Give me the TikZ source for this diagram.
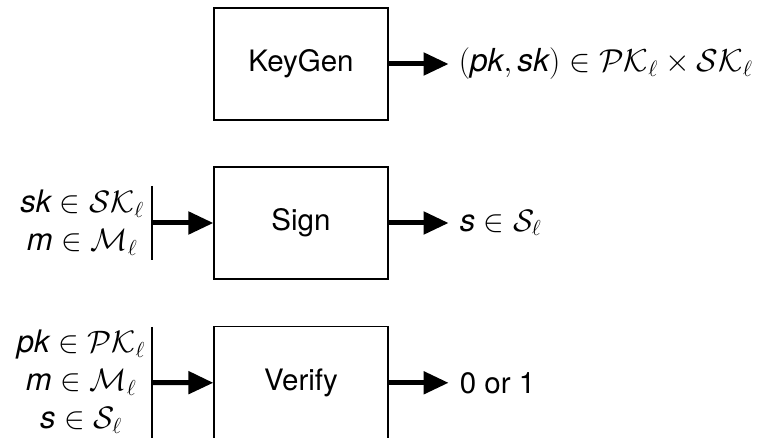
\RequirePackage{fix-cm}
\documentclass[tikz,border=0pt]{standalone}
\usepackage{fontspec}
\setmainfont{TeX Gyre Heros}
\usetikzlibrary{arrows.meta,calc}
\newcommand\iv[1]{\textit{#1}}
\tikzset{
  box/.style={draw, line width=1.2pt, minimum width=174pt, minimum height=112pt, inner sep=0pt, font=\fontsize{29.5}{35}\selectfont},
  flow/.style={line width=5pt, -{Triangle[length=25pt,width=22pt]}},
  lbl/.style={font=\fontsize{31}{38}\selectfont, align=center, inner sep=0pt},
  biglbl/.style={font=\fontsize{31.7}{38}\selectfont, inner sep=0pt},
  txt/.style={font=\fontsize{29.5}{35}\selectfont, inner sep=0pt},
  bar/.style={line width=1.2pt}
}
\begin{document}
\begin{tikzpicture}[x=1pt,y=-1pt]
\useasboundingbox (0,0) rectangle (758,438);
% boxes
\node[box] (kg) at (301,64) {KeyGen};
\node[box] (sg) at (301,223) {Sign};
\node[box] (vf) at (301,382.8) {Verify};
% outputs
\coordinate (kgo) at ($(kg.east)+(60,0)$);
\coordinate (sgo) at ($(sg.east)+(60,0)$);
\coordinate (vfo) at ($(vf.east)+(60,0)$);
\draw[flow] (kg.east) -- (kgo);
\draw[flow] (sg.east) -- (sgo);
\draw[flow] (vf.east) -- (vfo);
\node[biglbl, anchor=west] (kgl) at ($(kgo)+(10,0)$) {$(\iv{pk},\iv{sk}) \in \mathcal{PK}_\ell \times \mathcal{SK}_\ell$};
\node[lbl, anchor=west] (sgl) at ($(sgo)+(11,0)$) {$\iv{s} \in \mathcal{S}_\ell$};
\node[txt, anchor=west] (vfl) at ($(vfo)+(11,0)$) {0 or 1};
% inputs
\node[lbl] (sgin) at (82,223) {$\iv{sk} \in \mathcal{SK}_\ell$\\$\iv{m} \in \mathcal{M}_\ell$};
\node[lbl] (vfin) at (81,382) {$\iv{pk} \in \mathcal{PK}_\ell$\\$\iv{m} \in \mathcal{M}_\ell$\\$\iv{s} \in \mathcal{S}_\ell$};
\coordinate (sgbt) at (152,186);
\coordinate (sgbb) at (152,260);
\coordinate (sgi) at (152,223);
\coordinate (vfbt) at (152,327);
\coordinate (vfbb) at (152,440);
\coordinate (vfi) at (152,382.5);
\draw[bar] (sgbt) -- (sgbb);
\draw[bar] (vfbt) -- (vfbb);
\draw[flow] (sgi) -- (sg.west);
\draw[flow] (vfi) -- (vf.west);
\end{tikzpicture}
\end{document}
